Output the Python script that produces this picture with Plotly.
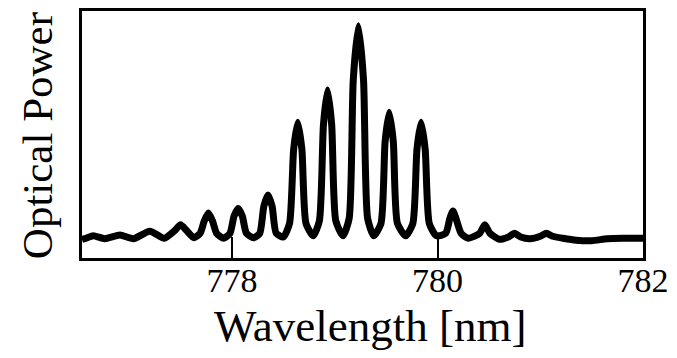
import plotly.graph_objects as go

# Spectrum (wavelength in nm, optical power in arbitrary units)
wavelength = [
    776.54, 776.58, 776.65, 776.76, 776.91, 777.04, 777.20, 777.34,
    777.44, 777.50, 777.56, 777.63,
    777.69, 777.73, 777.77, 777.81, 777.85, 777.92,
    777.98, 778.02, 778.06, 778.10, 778.14, 778.21,
    778.27, 778.31, 778.35, 778.39, 778.43, 778.50,
    778.56, 778.60, 778.64, 778.68, 778.72, 778.79,
    778.85, 778.89, 778.93, 778.97, 779.01, 779.08,
    779.14, 779.18, 779.23, 779.28, 779.32, 779.38,
    779.45, 779.49, 779.53, 779.57, 779.61, 779.69,
    779.76, 779.80, 779.84, 779.88, 779.92, 779.99,
    780.08, 780.12, 780.15, 780.18, 780.23, 780.30,
    780.41, 780.46, 780.51, 780.60,
    780.69, 780.75, 780.81, 780.90,
    781.00, 781.06, 781.12, 781.22,
    781.35, 781.50, 781.65, 781.80, 782.00,
]
power = [
    0.075, 0.080, 0.090, 0.078, 0.093, 0.078, 0.108, 0.080,
    0.110, 0.135, 0.110, 0.082,
    0.100, 0.150, 0.182, 0.150, 0.100, 0.080,
    0.100, 0.170, 0.200, 0.170, 0.100, 0.082,
    0.100, 0.210, 0.255, 0.210, 0.100, 0.085,
    0.140, 0.440, 0.550, 0.440, 0.140, 0.090,
    0.150, 0.540, 0.680, 0.540, 0.150, 0.090,
    0.160, 0.720, 0.940, 0.720, 0.160, 0.090,
    0.140, 0.470, 0.590, 0.470, 0.140, 0.090,
    0.140, 0.440, 0.550, 0.440, 0.140, 0.090,
    0.100, 0.160, 0.190, 0.160, 0.100, 0.080,
    0.100, 0.135, 0.100, 0.076,
    0.085, 0.100, 0.085, 0.078,
    0.088, 0.100, 0.088, 0.080,
    0.072, 0.070, 0.078, 0.080, 0.080,
]

x_ticks = [778, 780, 782]
x_tick_labels = ["778", "780", "782"]
x_title = "Wavelength [nm]"
y_title = "Optical Power"

fig = go.Figure()
fig.add_trace(go.Scatter(
    x=wavelength, y=power, mode="lines",
    line=dict(color="black", width=7, shape="spline", smoothing=0.6),
    showlegend=False, hoverinfo="skip",
))

serif = "Liberation Serif, Times New Roman, serif"
fig.update_layout(
    width=677, height=358,
    margin=dict(l=82, r=31, t=8, b=100),
    paper_bgcolor="white", plot_bgcolor="white",
    font=dict(family=serif, color="black"),
)
fig.update_xaxes(
    range=[776.54, 782.0],
    tickmode="array", tickvals=x_ticks, ticktext=x_tick_labels,
    ticks="inside", ticklen=21, tickwidth=2, tickcolor="black",
    tickfont=dict(family=serif, size=34, color="black"),
    ticklabelstandoff=-10,
    showline=True, linewidth=3, linecolor="black", mirror=True,
    showgrid=False, zeroline=False,
)
fig.update_yaxes(
    range=[0, 1],
    showticklabels=False, ticks="",
    showline=True, linewidth=3, linecolor="black", mirror=True,
    showgrid=False, zeroline=False,
)
fig.add_annotation(
    text=x_title, xref="paper", yref="paper", x=0.514, y=-0.165,
    xanchor="center", yanchor="top", showarrow=False,
    font=dict(family=serif, size=45, color="black"),
)
fig.add_annotation(
    text=y_title, xref="paper", yref="paper", x=-0.079, y=0.496,
    xanchor="center", yanchor="middle", textangle=-90, showarrow=False,
    font=dict(family=serif, size=43, color="black"),
)

fig.write_html("out.html")
